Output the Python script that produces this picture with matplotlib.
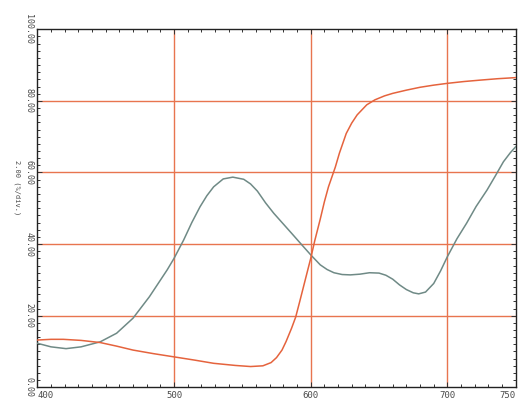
import matplotlib
matplotlib.use("Agg")
import matplotlib.pyplot as plt
from matplotlib.ticker import MultipleLocator

# wavelength (nm) / %T
green_nm = [400, 410, 421, 432, 446, 458, 470, 482, 495, 500, 507, 513, 519,
            524, 529, 536, 543, 551, 556, 561, 567, 573, 580, 587, 593, 600,
            607, 612, 617, 623, 629, 636, 643, 650, 655, 660, 665, 670, 675,
            679, 684, 690, 695, 700, 707, 714, 721, 729, 735, 741, 746, 750]
green_t = [12.3, 11.3, 10.8, 11.3, 12.7, 15.1, 19.3, 25.3, 32.8, 36.0, 41.1,
           46.0, 50.4, 53.5, 56.0, 58.2, 58.7, 58.1, 56.8, 54.8, 51.5, 48.6,
           45.6, 42.6, 40.0, 37.0, 34.2, 32.9, 32.0, 31.5, 31.4, 31.6, 32.0,
           31.9, 31.3, 30.2, 28.6, 27.3, 26.4, 26.1, 26.6, 29.0, 32.5, 36.5,
           41.5, 45.8, 50.5, 55.1, 59.0, 63.0, 65.5, 67.2]

red_nm = [400, 410, 419, 432, 446, 458, 470, 485, 500, 515, 529, 545, 556,
          565, 571, 575, 579, 582, 586, 589, 592, 595, 598, 600, 603, 607,
          610, 613, 618, 621, 626, 630, 634, 641, 647, 654, 660, 670, 680,
          690, 700, 712, 724, 737, 750]
red_t = [13.2, 13.4, 13.4, 13.1, 12.5, 11.5, 10.4, 9.4, 8.5, 7.6, 6.7, 6.1,
         5.8, 6.0, 6.9, 8.3, 10.4, 12.8, 16.5, 19.6, 24.0, 28.5, 33.0, 36.0,
         41.0, 47.0, 51.8, 56.0, 61.5, 65.4, 70.9, 73.8, 76.1, 78.9, 80.3,
         81.4, 82.1, 83.0, 83.8, 84.4, 84.9, 85.4, 85.8, 86.2, 86.5]

x_major = [400, 500, 600, 700, 750]
y_major = [0, 20, 40, 60, 80, 100]
y_labels = ["0.00", "20.00", "40.00", "60.00", "80.00", "100.00"]

grid_col = "#e8754f"
txt_col = "#4a4a4a"

fig = plt.figure(figsize=(5.22, 4.05), dpi=100)
ax = fig.add_axes([0.0715, 0.0437, 0.9165, 0.884])

for v in [500, 600, 700]:
    ax.axvline(v, color=grid_col, lw=1.0, zorder=1)
for v in [20, 40, 60, 80]:
    ax.axhline(v, color=grid_col, lw=1.0, zorder=1)

ax.plot(green_nm, green_t, color="#6f8a86", lw=1.1, zorder=3)
ax.plot(red_nm, red_t, color="#e5633d", lw=1.1, zorder=3)

ax.set_xlim(400, 750)
ax.set_ylim(0, 100)

ax.set_xticks(x_major)
ax.set_xticklabels([str(v) for v in x_major], family="DejaVu Sans Mono",
                   fontsize=6.5, color=txt_col)
xl = ax.get_xticklabels()
xl[0].set_ha("left")
xl[-1].set_ha("right")
ax.xaxis.set_minor_locator(MultipleLocator(10))
ax.set_yticks(y_major)
ax.set_yticklabels(y_labels, family="DejaVu Sans Mono", fontsize=6,
                   color=txt_col, rotation=-90, va="center")
ax.yaxis.set_minor_locator(MultipleLocator(2))

ax.tick_params(which="both", direction="in", top=True, right=True,
               color="#333333", width=0.7)
ax.tick_params(which="major", length=3.5)
ax.tick_params(which="minor", length=2)
ax.tick_params(axis="x", pad=3)
ax.tick_params(axis="y", pad=3)

ax.set_ylabel("2.00 (%/div.)", family="DejaVu Sans Mono", fontsize=5,
              color=txt_col, rotation=-90, va="center", ha="center")
ax.yaxis.set_label_coords(-0.042, 0.557)

for s in ax.spines.values():
    s.set_color("#222222")
    s.set_linewidth(1.0)

fig.savefig("out.png", dpi=100, facecolor="white")
